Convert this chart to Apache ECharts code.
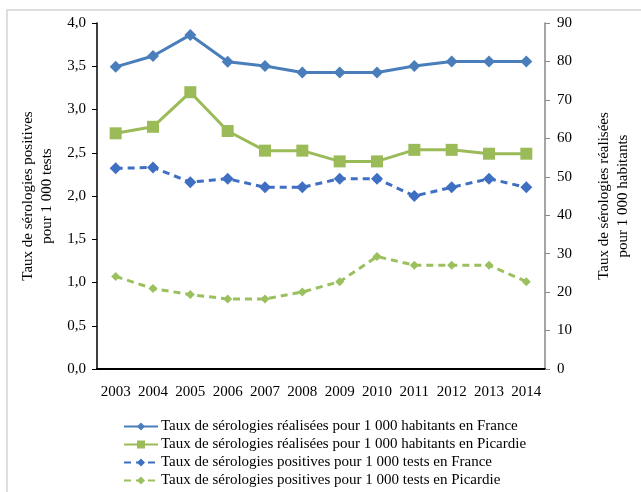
<!DOCTYPE html>
<html>
<head>
<meta charset="utf-8">
<script src="https://cdn.jsdelivr.net/npm/echarts@6/dist/echarts.min.js"></script>
<style>
  html, body { margin: 0; padding: 0; background: #fff; }
  #chart { width: 641px; height: 492px; }
</style>
</head>
<body>
<div id="chart"></div>
<script>
// Years on the category axis
const years = ['2003','2004','2005','2006','2007','2008','2009','2010','2011','2012','2013','2014'];

// Serologies performed per 1 000 inhabitants (right axis)
const realiseesFrance   = [78.6, 81.4, 86.9, 79.9, 78.8, 77.1, 77.1, 77.1, 78.8, 80.0, 80.0, 80.0];
const realiseesPicardie = [61.3, 63.0, 72.0, 61.9, 56.8, 56.8, 54.0, 54.0, 57.0, 57.0, 56.0, 56.0];

// Positive serologies per 1 000 tests (left axis)
const positivesFrance   = [2.32, 2.33, 2.16, 2.20, 2.10, 2.10, 2.20, 2.20, 2.00, 2.10, 2.20, 2.10];
const positivesPicardie = [1.07, 0.93, 0.86, 0.81, 0.81, 0.89, 1.01, 1.30, 1.20, 1.20, 1.20, 1.01];

const seriesNames = [
  'Taux de sérologies réalisées pour 1 000 habitants en France',
  'Taux de sérologies réalisées pour 1 000 habitants en Picardie',
  'Taux de sérologies positives pour 1 000 tests en France',
  'Taux de sérologies positives pour 1 000 tests en Picardie'
];

const FONT = '"Liberation Serif", "Times New Roman", serif';
const BLUE = '#4A7EBB';
const GREEN = '#9BBB59';
const BLUE_D = '#3F6FC2';
const GREEN_D = '#9BC05E';

const chart = echarts.init(document.getElementById('chart'), null, { renderer: 'canvas' });

chart.setOption({
  animation: false,
  backgroundColor: '#fff',
  textStyle: { fontFamily: FONT, color: '#000' },
  graphic: [{
    type: 'rect',
    shape: { x: 7, y: 10, width: 700, height: 600 },
    style: { fill: 'none', stroke: '#d4d4d4', lineWidth: 1.5 },
    silent: true
  }],
  grid: { left: 97, right: 89, top: 23, height: 346 },
  legend: {
    orient: 'vertical',
    left: 123,
    top: 419,
    padding: 0,
    itemWidth: 34,
    itemHeight: 10,
    itemGap: 3,
    textStyle: { fontFamily: FONT, fontSize: 15, lineHeight: 15, color: '#000', padding: [0, 0, 0, -2] },
    data: seriesNames
  },
  xAxis: {
    type: 'category',
    data: years,
    boundaryGap: true,
    axisLine: { lineStyle: { color: '#000', width: 2 } },
    axisTick: { show: false },
    axisLabel: { interval: 0, fontFamily: FONT, fontSize: 15, color: '#000', margin: 16 }
  },
  yAxis: [{
    type: 'value',
    min: 0, max: 4, interval: 0.5,
    position: 'left',
    name: 'Taux de sérologies positives\npour 1 000 tests',
    nameLocation: 'middle',
    nameGap: 35,
    nameTextStyle: { fontFamily: FONT, fontSize: 15, color: '#000', lineHeight: 19 },
    axisLine: { show: true, lineStyle: { color: '#000', width: 1.5 } },
    axisTick: { show: true, length: 5, lineStyle: { color: '#000' } },
    splitLine: { show: false },
    axisLabel: {
      fontFamily: FONT, fontSize: 15, color: '#000', margin: 11,
      formatter: v => v.toFixed(1).replace('.', ',')
    }
  }, {
    type: 'value',
    min: 0, max: 90, interval: 10,
    position: 'right',
    name: 'Taux de sérologies réalisées\npour 1 000 habitants',
    nameLocation: 'middle',
    nameGap: 50,
    nameRotate: 90,
    nameTextStyle: { fontFamily: FONT, fontSize: 15, color: '#000', lineHeight: 19 },
    axisLine: { show: true, lineStyle: { color: '#888', width: 1.5 } },
    axisTick: { show: true, length: 5, lineStyle: { color: '#888' } },
    splitLine: { show: false },
    axisLabel: { fontFamily: FONT, fontSize: 15, color: '#000', margin: 12 }
  }],
  series: [{
    name: seriesNames[0],
    type: 'line',
    yAxisIndex: 1,
    data: realiseesFrance,
    color: BLUE,
    symbol: 'diamond',
    symbolSize: 12,
    lineStyle: { width: 3, color: BLUE },
    itemStyle: { color: BLUE }
  }, {
    name: seriesNames[1],
    type: 'line',
    yAxisIndex: 1,
    data: realiseesPicardie,
    color: GREEN,
    symbol: 'rect',
    symbolSize: 12,
    lineStyle: { width: 3, color: GREEN },
    itemStyle: { color: GREEN }
  }, {
    name: seriesNames[2],
    type: 'line',
    yAxisIndex: 0,
    data: positivesFrance,
    color: BLUE_D,
    symbol: 'diamond',
    symbolSize: 12,
    lineStyle: { width: 3, color: BLUE_D, type: [7, 5] },
    itemStyle: { color: BLUE_D }
  }, {
    name: seriesNames[3],
    type: 'line',
    yAxisIndex: 0,
    data: positivesPicardie,
    color: GREEN_D,
    symbol: 'diamond',
    symbolSize: 9,
    lineStyle: { width: 3, color: GREEN_D, type: [7, 5] },
    itemStyle: { color: GREEN_D }
  }]
});
</script>
</body>
</html>
